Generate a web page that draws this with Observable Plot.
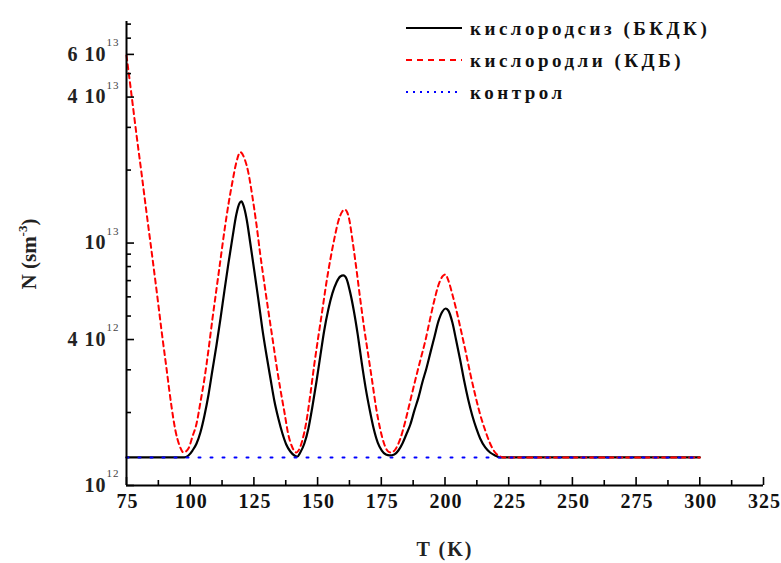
<!DOCTYPE html>
<html><head><meta charset="utf-8">
<script src="https://cdn.jsdelivr.net/npm/d3@7"></script>
<script src="https://cdn.jsdelivr.net/npm/@observablehq/plot@0.6"></script>
<style>body{margin:0;background:#fff} #chart{width:781px;height:563px}</style>
</head><body><div id="chart"></div>
<script>
// Temperature (K) and concentration (units of 10^12 sm^-3)
const seriesNames = ["кислородсиз (БКДК)", "кислородли (КДБ)", "контрол"];
const T_black = [75, 97.7, 99.3, 100.9, 102.5, 104.0, 105.6, 107.2, 108.7, 110.3, 111.9, 113.4, 115.0, 116.6, 118.1, 119.3, 120.1, 120.9, 122.1, 123.6, 125.2, 126.8, 128.3, 129.9, 131.5, 133.0, 134.6, 136.2, 137.7, 139.3, 140.9, 142.1, 143.2, 144.8, 146.4, 147.9, 149.5, 151.1, 152.6, 154.2, 155.8, 157.4, 158.9, 160.1, 161.3, 162.6, 164.2, 165.8, 167.3, 168.9, 170.5, 172.0, 173.6, 175.2, 176.8, 178.3, 180.1, 181.7, 183.3, 184.8, 186.4, 188.0, 189.6, 191.1, 192.7, 194.3, 195.9, 197.4, 199.0, 200.2, 201.3, 202.9, 204.4, 206.0, 207.5, 209.1, 210.7, 212.3, 213.8, 215.8, 217.7, 219.7, 221.7, 300];
const N_black = [1.305, 1.305, 1.330, 1.394, 1.490, 1.654, 1.944, 2.374, 2.98, 3.78, 4.89, 6.32, 8.24, 10.55, 13.12, 14.57, 14.85, 14.29, 12.63, 9.96, 7.63, 5.80, 4.44, 3.47, 2.763, 2.243, 1.89, 1.639, 1.476, 1.381, 1.330, 1.317, 1.368, 1.490, 1.719, 2.098, 2.66, 3.44, 4.36, 5.32, 6.20, 6.88, 7.28, 7.35, 7.14, 6.38, 5.27, 4.16, 3.22, 2.51, 2.04, 1.719, 1.504, 1.394, 1.342, 1.330, 1.342, 1.394, 1.490, 1.623, 1.785, 2.04, 2.31, 2.66, 3.04, 3.54, 4.12, 4.75, 5.22, 5.37, 5.27, 4.70, 3.96, 3.28, 2.71, 2.264, 1.944, 1.719, 1.563, 1.435, 1.368, 1.330, 1.305, 1.305];
const T_red = [75, 77.0, 78.9, 80.9, 82.8, 84.8, 86.8, 88.7, 90.7, 92.6, 94.2, 95.8, 97.4, 99.3, 100.9, 102.5, 104.0, 105.6, 107.2, 108.7, 110.3, 111.9, 113.4, 115.0, 116.6, 118.1, 119.7, 121.3, 122.8, 124.4, 126.0, 127.5, 129.1, 130.7, 132.3, 133.8, 135.4, 137.0, 138.5, 140.1, 141.7, 142.5, 144.0, 145.6, 147.2, 148.7, 150.3, 151.9, 153.4, 155.0, 156.6, 158.1, 159.7, 160.6, 161.6, 162.5, 163.7, 165.3, 166.8, 168.3, 169.9, 171.5, 173.0, 174.6, 176.2, 177.7, 178.9, 180.5, 182.5, 184.5, 186.4, 188.3, 190.3, 192.3, 194.2, 195.8, 197.4, 199.0, 200.2, 201.3, 202.9, 204.4, 206.0, 208.0, 209.9, 211.9, 213.8, 215.8, 217.7, 219.7, 221.7, 222.8, 300];
const N_red = [59.4, 40.6, 28.1, 19.4, 13.5, 9.32, 6.38, 4.40, 3.04, 2.14, 1.686, 1.462, 1.368, 1.421, 1.593, 1.802, 2.200, 2.763, 3.64, 4.84, 6.44, 8.56, 11.17, 14.43, 17.95, 21.5, 23.7, 22.3, 19.56, 15.57, 11.93, 8.97, 6.81, 5.22, 4.04, 3.16, 2.49, 2.00, 1.623, 1.435, 1.368, 1.394, 1.533, 1.837, 2.397, 3.156, 4.12, 5.32, 6.81, 8.56, 10.45, 12.28, 13.5, 13.76, 13.4, 12.39, 10.25, 7.71, 5.80, 4.44, 3.44, 2.66, 2.08, 1.702, 1.476, 1.381, 1.368, 1.408, 1.563, 1.854, 2.243, 2.71, 3.28, 3.96, 4.89, 5.80, 6.69, 7.28, 7.42, 7.01, 6.14, 5.32, 4.49, 3.61, 2.90, 2.35, 1.963, 1.686, 1.490, 1.368, 1.317, 1.305, 1.305];
const T_control = [75, 300];
const N_control = [1.305, 1.305];

// Axis ticks and labels
const xMajorTicks = [75, 100, 125, 150, 175, 200, 225, 250, 275, 300, 325];
const xMinorTicks = [87.5, 112.5, 137.5, 162.5, 187.5, 212.5, 237.5, 262.5, 287.5, 312.5];
const yLabelTicks = [1e12, 4e12, 1e13, 4e13, 6e13];
const yLabelBase = ["10", "4 10", "10", "4 10", "6 10"];
const yLabelExp = ["12", "12", "13", "13", "13"];
const yMinorTicks = [2e12, 3e12, 5e12, 6e12, 7e12, 8e12, 9e12, 2e13, 3e13, 5e13, 7e13, 8e13];

const toRows = (T, N) => T.map((t, i) => ({T: t, N: N[i] * 1e12}));
const black = toRows(T_black, N_black);
const red = toRows(T_red, N_red);
const control = toRows(T_control, N_control);
const yLabels = yLabelTicks.map((v, i) => ({v, base: yLabelBase[i], exp: yLabelExp[i]}));

const W = 781, H = 563, mL = 126, mR = 18, mT = 21, mB = 78;
const innerW = W - mL - mR, innerH = H - mT - mB;
const serif = "'Liberation Serif', 'Times New Roman', serif";

const svg = Plot.plot({
  width: W, height: H,
  marginLeft: mL, marginRight: mR, marginTop: mT, marginBottom: mB,
  style: {fontFamily: serif, background: "#fff", color: "#000", overflow: "visible"},
  x: {domain: [75, 325], axis: null},
  y: {type: "log", domain: [1e12, 8.2e13], axis: null},
  marks: [
    Plot.line(black, {x: "T", y: "N", stroke: "#000", strokeWidth: 2.2, curve: "monotone-x"}),
    Plot.line(red, {x: "T", y: "N", stroke: "#ff0000", strokeWidth: 2, strokeDasharray: "5,4", curve: "monotone-x"}),
    Plot.line(control, {x: "T", y: "N", stroke: "#0000ff", strokeWidth: 2, strokeDasharray: "2,10"}),
    Plot.tickX(xMajorTicks, {x: d => d, insetTop: innerH - 8, strokeWidth: 1.6}),
    Plot.tickX(xMinorTicks, {x: d => d, insetTop: innerH - 5, strokeWidth: 1.6}),
    Plot.tickY(yLabelTicks, {y: d => d, insetRight: innerW - 8, strokeWidth: 1.6}),
    Plot.tickY(yMinorTicks, {y: d => d, insetRight: innerW - 5, strokeWidth: 1.6}),
    Plot.ruleX([75], {strokeWidth: 2}),
    Plot.ruleY([1e12], {strokeWidth: 2}),
    Plot.text(xMajorTicks, {x: d => d, frameAnchor: "bottom", dy: 22, dx: 1, text: d => String(d), fontSize: 20, fontWeight: "bold", fill: "#111"}),
    Plot.text(yLabels, {y: "v", frameAnchor: "left", dx: -20, textAnchor: "end", text: "base", fontSize: 20, fontWeight: "bold", fill: "#222"}),
    Plot.text(yLabels, {y: "v", frameAnchor: "left", dx: -7, dy: -12, textAnchor: "end", text: "exp", fontSize: 11, fill: "#444"})
  ]
});

const s = d3.select(svg);
s.selectAll("g[aria-label='text'] text").attr("letter-spacing", "1px");
// Legend
const legend = s.append("g").attr("font-family", serif).attr("font-weight", "bold")
  .attr("font-size", 19).attr("text-anchor", "start");
const legendStyles = [
  {stroke: "#000", dash: null, w: 2.2},
  {stroke: "#ff0000", dash: "6,5", w: 2},
  {stroke: "#0000ff", dash: "2,5", w: 2}
];
seriesNames.forEach((name, i) => {
  const y = 28 + i * 32;
  legend.append("line").attr("x1", 406).attr("x2", 462).attr("y1", y).attr("y2", y)
    .attr("stroke", legendStyles[i].stroke).attr("stroke-width", legendStyles[i].w)
    .attr("stroke-dasharray", legendStyles[i].dash);
  legend.append("text").attr("x", 470).attr("y", y).attr("dy", "0.35em")
    .attr("letter-spacing", "3.5px").attr("fill", "#111").text(name);
});
// Axis titles
s.append("text").attr("x", 445).attr("y", 549).attr("dy", "0.35em").attr("text-anchor", "middle")
  .attr("font-family", serif).attr("font-weight", "bold").attr("font-size", 20).attr("letter-spacing", "2px")
  .attr("fill", "#222").text("T (K)");
const yt = s.append("text").attr("transform", "translate(36,254) rotate(-90)").attr("text-anchor", "middle")
  .attr("font-family", serif).attr("font-weight", "bold").attr("font-size", 21).attr("fill", "#222");
yt.append("tspan").text("N (sm");
yt.append("tspan").attr("dy", -9).attr("font-size", 13).text("-3");
yt.append("tspan").attr("dy", 9).text(")");

document.getElementById("chart").appendChild(svg);
</script>
</body></html>
